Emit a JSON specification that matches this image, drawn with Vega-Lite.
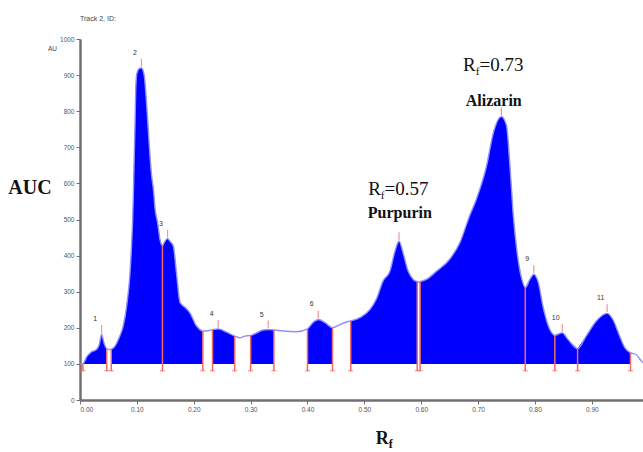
{
  "$schema": "https://vega.github.io/schema/vega-lite/v6.json",
  "width": 563,
  "height": 361,
  "autosize": "none",
  "padding": {"left": 80, "top": 39, "right": 0, "bottom": 52},
  "background": "white",
  "config": {"view": {"stroke": null}},
  "datasets": {
    "trace": [
      {"r": 0.000, "v": 100, "p": 0}, {"r": 0.005, "v": 100, "p": 0},
      {"r": 0.005, "v": 100, "p": 1}, {"r": 0.012, "v": 120, "p": 1}, {"r": 0.020, "v": 133, "p": 1}, {"r": 0.029, "v": 140, "p": 1}, {"r": 0.034, "v": 154, "p": 1}, {"r": 0.038, "v": 182, "p": 1}, {"r": 0.042, "v": 159, "p": 1}, {"r": 0.047, "v": 142, "p": 1},
      {"r": 0.047, "v": 142, "p": 0}, {"r": 0.051, "v": 140, "p": 0}, {"r": 0.055, "v": 141, "p": 0},
      {"r": 0.055, "v": 141, "p": 2}, {"r": 0.060, "v": 146, "p": 2}, {"r": 0.070, "v": 177, "p": 2}, {"r": 0.076, "v": 205, "p": 2}, {"r": 0.082, "v": 260, "p": 2}, {"r": 0.088, "v": 353, "p": 2}, {"r": 0.091, "v": 440, "p": 2}, {"r": 0.0925, "v": 496, "p": 2}, {"r": 0.0937, "v": 560, "p": 2}, {"r": 0.095, "v": 650, "p": 2}, {"r": 0.0967, "v": 760, "p": 2}, {"r": 0.098, "v": 860, "p": 2}, {"r": 0.100, "v": 905, "p": 2}, {"r": 0.104, "v": 918, "p": 2}, {"r": 0.108, "v": 920, "p": 2}, {"r": 0.111, "v": 912, "p": 2}, {"r": 0.113, "v": 898, "p": 2}, {"r": 0.118, "v": 800, "p": 2}, {"r": 0.122, "v": 700, "p": 2}, {"r": 0.126, "v": 620, "p": 2}, {"r": 0.129, "v": 585, "p": 2}, {"r": 0.132, "v": 530, "p": 2}, {"r": 0.1366, "v": 490, "p": 2}, {"r": 0.1406, "v": 445, "p": 2}, {"r": 0.145, "v": 427, "p": 2},
      {"r": 0.145, "v": 427, "p": 3}, {"r": 0.148, "v": 436, "p": 3}, {"r": 0.154, "v": 447, "p": 3}, {"r": 0.158, "v": 440, "p": 3}, {"r": 0.164, "v": 427, "p": 3}, {"r": 0.169, "v": 362, "p": 3}, {"r": 0.176, "v": 270, "p": 3}, {"r": 0.185, "v": 256, "p": 3}, {"r": 0.193, "v": 242, "p": 3}, {"r": 0.205, "v": 205, "p": 3}, {"r": 0.214, "v": 192, "p": 3}, {"r": 0.216, "v": 191, "p": 3},
      {"r": 0.216, "v": 191, "p": 0}, {"r": 0.225, "v": 192, "p": 0}, {"r": 0.233, "v": 195, "p": 0},
      {"r": 0.233, "v": 195, "p": 4}, {"r": 0.243, "v": 197, "p": 4}, {"r": 0.258, "v": 188, "p": 4}, {"r": 0.272, "v": 177, "p": 4},
      {"r": 0.272, "v": 177, "p": 0}, {"r": 0.281, "v": 172, "p": 0}, {"r": 0.290, "v": 177, "p": 0}, {"r": 0.300, "v": 179, "p": 0},
      {"r": 0.300, "v": 179, "p": 5}, {"r": 0.311, "v": 186, "p": 5}, {"r": 0.322, "v": 194, "p": 5}, {"r": 0.331, "v": 195, "p": 5}, {"r": 0.341, "v": 194, "p": 5},
      {"r": 0.341, "v": 194, "p": 0}, {"r": 0.357, "v": 191, "p": 0}, {"r": 0.381, "v": 189, "p": 0}, {"r": 0.400, "v": 197, "p": 0},
      {"r": 0.400, "v": 197, "p": 6}, {"r": 0.410, "v": 215, "p": 6}, {"r": 0.419, "v": 223, "p": 6}, {"r": 0.431, "v": 214, "p": 6}, {"r": 0.444, "v": 200, "p": 6},
      {"r": 0.444, "v": 200, "p": 0}, {"r": 0.457, "v": 209, "p": 0}, {"r": 0.469, "v": 216, "p": 0}, {"r": 0.476, "v": 219, "p": 0},
      {"r": 0.476, "v": 219, "p": 7}, {"r": 0.492, "v": 228, "p": 7}, {"r": 0.510, "v": 251, "p": 7}, {"r": 0.521, "v": 279, "p": 7}, {"r": 0.533, "v": 330, "p": 7}, {"r": 0.545, "v": 357, "p": 7}, {"r": 0.554, "v": 413, "p": 7}, {"r": 0.561, "v": 440, "p": 7}, {"r": 0.568, "v": 408, "p": 7}, {"r": 0.577, "v": 357, "p": 7}, {"r": 0.586, "v": 334, "p": 7}, {"r": 0.593, "v": 328, "p": 7},
      {"r": 0.593, "v": 328, "p": 0}, {"r": 0.595, "v": 327, "p": 0}, {"r": 0.598, "v": 328, "p": 0},
      {"r": 0.598, "v": 328, "p": 8}, {"r": 0.609, "v": 334, "p": 8}, {"r": 0.627, "v": 357, "p": 8}, {"r": 0.650, "v": 390, "p": 8}, {"r": 0.668, "v": 436, "p": 8}, {"r": 0.685, "v": 510, "p": 8}, {"r": 0.697, "v": 556, "p": 8}, {"r": 0.715, "v": 649, "p": 8}, {"r": 0.727, "v": 741, "p": 8}, {"r": 0.741, "v": 785, "p": 8}, {"r": 0.750, "v": 760, "p": 8}, {"r": 0.756, "v": 649, "p": 8}, {"r": 0.762, "v": 510, "p": 8}, {"r": 0.768, "v": 417, "p": 8}, {"r": 0.777, "v": 334, "p": 8}, {"r": 0.783, "v": 311, "p": 8},
      {"r": 0.783, "v": 311, "p": 9}, {"r": 0.791, "v": 334, "p": 9}, {"r": 0.798, "v": 348, "p": 9}, {"r": 0.806, "v": 325, "p": 9}, {"r": 0.814, "v": 260, "p": 9}, {"r": 0.826, "v": 196, "p": 9}, {"r": 0.835, "v": 179, "p": 9},
      {"r": 0.835, "v": 179, "p": 10}, {"r": 0.848, "v": 186, "p": 10}, {"r": 0.858, "v": 168, "p": 10}, {"r": 0.875, "v": 142, "p": 10},
      {"r": 0.875, "v": 142, "p": 11}, {"r": 0.890, "v": 177, "p": 11}, {"r": 0.908, "v": 219, "p": 11}, {"r": 0.927, "v": 240, "p": 11}, {"r": 0.937, "v": 223, "p": 11}, {"r": 0.949, "v": 177, "p": 11}, {"r": 0.958, "v": 145, "p": 11}, {"r": 0.968, "v": 131, "p": 11},
      {"r": 0.968, "v": 131, "p": 0}, {"r": 0.978, "v": 126, "p": 0}, {"r": 0.987, "v": 108, "p": 0}, {"r": 0.990, "v": 104, "p": 0}
    ],
    "bounds": [
      {"r": 0.005, "v": 100}, {"r": 0.047, "v": 142}, {"r": 0.055, "v": 141}, {"r": 0.145, "v": 427},
      {"r": 0.216, "v": 191}, {"r": 0.233, "v": 195}, {"r": 0.272, "v": 177}, {"r": 0.300, "v": 179},
      {"r": 0.341, "v": 194}, {"r": 0.400, "v": 197}, {"r": 0.444, "v": 200}, {"r": 0.476, "v": 219},
      {"r": 0.593, "v": 328}, {"r": 0.598, "v": 328}, {"r": 0.783, "v": 311}, {"r": 0.835, "v": 179},
      {"r": 0.875, "v": 142}, {"r": 0.968, "v": 131}
    ],
    "peaks": [
      {"r": 0.038, "v": 182, "lab": "1"}, {"r": 0.108, "v": 920, "lab": "2"}, {"r": 0.154, "v": 447, "lab": "3"},
      {"r": 0.243, "v": 197, "lab": "4"}, {"r": 0.331, "v": 195, "lab": "5"}, {"r": 0.419, "v": 223, "lab": "6"},
      {"r": 0.561, "v": 440, "lab": ""}, {"r": 0.741, "v": 785, "lab": ""}, {"r": 0.798, "v": 348, "lab": "9"},
      {"r": 0.848, "v": 186, "lab": "10"}, {"r": 0.927, "v": 240, "lab": "11"}
    ]
  },
  "encoding": {
    "x": {
      "field": "r", "type": "quantitative",
      "scale": {"domain": [0, 0.99], "nice": false, "zero": false},
      "axis": {"values": [0, 0.1, 0.2, 0.3, 0.4, 0.5, 0.6, 0.7, 0.8, 0.9], "format": ".2f", "title": null, "grid": false,
        "labelFontSize": 6.5, "labelColor": "#555", "labelFont": "Liberation Sans", "domainColor": "#707070", "domainWidth": 2.5,
        "tickColor": "#707070", "tickSize": 4, "tickWidth": 1, "labelPadding": 2}
    },
    "y": {
      "field": "v", "type": "quantitative",
      "scale": {"domain": [0, 1000], "nice": false, "zero": false},
      "axis": {"values": [0, 100, 200, 300, 400, 500, 600, 700, 800, 900, 1000], "format": "d", "title": null, "grid": false,
        "labelFontSize": 6.5, "labelColor": "#555", "labelFont": "Liberation Sans", "domainColor": "#707070", "domainWidth": 2.5,
        "tickColor": "#707070", "tickSize": 4, "tickWidth": 1, "labelPadding": 2}
    }
  },
  "layer": [
    {
      "data": {"name": "trace"},
      "transform": [{"filter": "datum.p > 0"}],
      "mark": {"type": "area", "color": "#0000ff", "opacity": 1, "interpolate": "monotone"},
      "encoding": {"y2": {"datum": 100}, "detail": {"field": "p"}}
    },
    {
      "data": {"name": "trace"},
      "mark": {"type": "line", "color": "#8f8fff", "strokeWidth": 1.4, "interpolate": "monotone"},
      "encoding": {}
    },
    {
      "data": {"values": [{}]},
      "mark": {"type": "rule", "color": "#a6cfc6", "strokeWidth": 2},
      "encoding": {"x": {"datum": 0}, "x2": {"datum": 0.99}, "y": {"datum": 100}}
    },
    {
      "data": {"name": "bounds"},
      "mark": {"type": "rule", "color": "#f06a6a", "strokeWidth": 1.5},
      "encoding": {"y2": {"datum": 80}}
    },
    {
      "data": {"name": "bounds"},
      "mark": {"type": "tick", "orient": "horizontal", "color": "#f06a6a", "size": 5, "thickness": 1.2},
      "encoding": {"y": {"datum": 81}}
    },
    {
      "data": {"name": "peaks"},
      "mark": {"type": "tick", "orient": "vertical", "color": "#f06a6a", "size": 8, "thickness": 1.2, "yOffset": -5},
      "encoding": {}
    },
    {
      "data": {"name": "peaks"},
      "mark": {"type": "text", "fontSize": 7, "font": "Liberation Sans", "color": "#333", "dx": -6.5, "dy": -15, "baseline": "middle"},
      "encoding": {"text": {"field": "lab"}}
    },
    {
      "data": {"values": [
        {"r": 0.5067, "v": 568, "t": "R"}, {"r": 0.5355, "v": 568, "t": "=0.57"},
        {"r": 0.6736, "v": 910, "t": "R"}, {"r": 0.7025, "v": 910, "t": "=0.73"}
      ]},
      "mark": {"type": "text", "font": "Liberation Serif", "fontSize": 19, "color": "#111", "align": "left", "baseline": "alphabetic"},
      "encoding": {"text": {"field": "t"}}
    },
    {
      "data": {"values": [
        {"r": 0.529, "v": 557, "t": "f"}, {"r": 0.696, "v": 899, "t": "f"}
      ]},
      "mark": {"type": "text", "font": "Liberation Serif", "fontSize": 11, "color": "#111", "align": "left", "baseline": "alphabetic"},
      "encoding": {"text": {"field": "t"}}
    },
    {
      "data": {"values": [
        {"r": 0.5624, "v": 503, "t": "Purpurin"}, {"r": 0.7276, "v": 815, "t": "Alizarin"}
      ]},
      "mark": {"type": "text", "font": "Liberation Serif", "fontSize": 16, "fontWeight": "bold", "color": "#111", "align": "center", "baseline": "alphabetic"},
      "encoding": {"text": {"field": "t"}}
    },
    {
      "data": {"values": [
        {"r": -0.0879, "v": 570, "t": "AUC"}
      ]},
      "mark": {"type": "text", "font": "Liberation Serif", "fontSize": 20, "fontWeight": "bold", "color": "#111", "align": "center", "baseline": "alphabetic"},
      "encoding": {"text": {"field": "t"}}
    },
    {
      "data": {"values": [
        {"r": 0.5202, "v": -123, "t": "R"}
      ]},
      "mark": {"type": "text", "font": "Liberation Serif", "fontSize": 18, "fontWeight": "bold", "color": "#111", "align": "left", "baseline": "alphabetic"},
      "encoding": {"text": {"field": "t"}}
    },
    {
      "data": {"values": [
        {"r": 0.5431, "v": -132, "t": "f"}
      ]},
      "mark": {"type": "text", "font": "Liberation Serif", "fontSize": 12, "fontWeight": "bold", "color": "#111", "align": "left", "baseline": "alphabetic"},
      "encoding": {"text": {"field": "t"}}
    },
    {
      "data": {"values": [
        {"r": 0.0, "v": 1051, "t": "Track 2, ID:"}
      ]},
      "mark": {"type": "text", "font": "Liberation Sans", "fontSize": 7, "color": "#444", "align": "left", "baseline": "alphabetic"},
      "encoding": {"text": {"field": "t"}}
    },
    {
      "data": {"values": [
        {"r": -0.0483, "v": 968, "t": "AU"}
      ]},
      "mark": {"type": "text", "font": "Liberation Sans", "fontSize": 6.5, "color": "#444", "align": "center", "baseline": "alphabetic"},
      "encoding": {"text": {"field": "t"}}
    }
  ]
}
